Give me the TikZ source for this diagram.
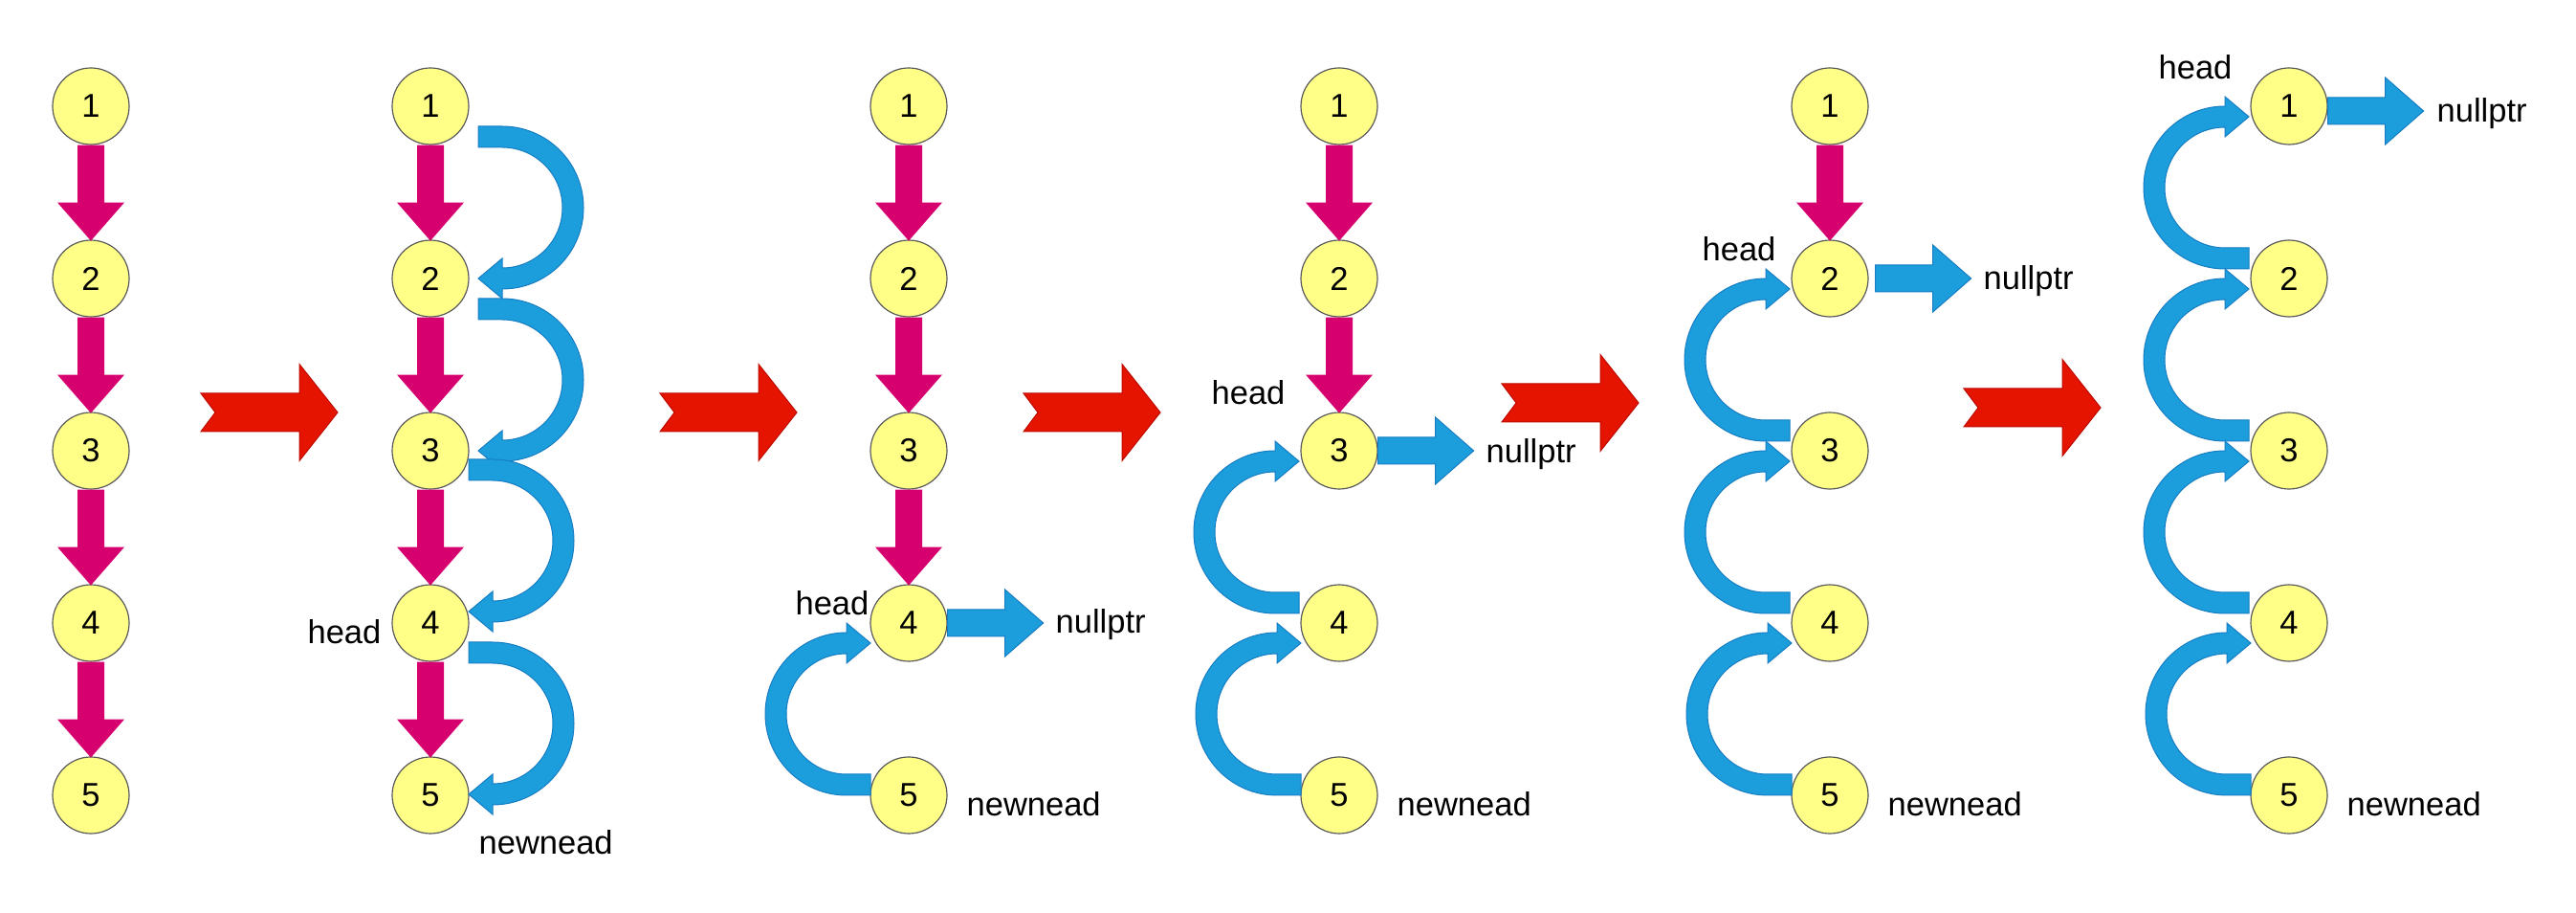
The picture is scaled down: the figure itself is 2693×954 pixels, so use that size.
\documentclass[tikz,border=0pt]{standalone}
\usepackage{fontspec}
\setmainfont{Liberation Sans}
\usetikzlibrary{calc}
\definecolor{nodefill}{RGB}{255,255,136}
\definecolor{nodeline}{RGB}{90,90,90}
\definecolor{magarrow}{RGB}{214,0,110}
\definecolor{bluearrow}{RGB}{28,158,221}
\definecolor{blueline}{RGB}{22,125,195}
\definecolor{redarrow}{RGB}{228,20,0}
\definecolor{redline}{RGB}{190,10,0}
\tikzset{
  listnode/.style={circle, draw=nodeline, line width=0.36pt, fill=nodefill, minimum size=24pt, inner sep=0pt, font=\fontsize{10.35pt}{12pt}\selectfont},
  lbl/.style={inner sep=0pt, font=\fontsize{10.35pt}{12pt}\selectfont},
  magshape/.style={fill=magarrow},
  blueshape/.style={fill=bluearrow, draw=blueline, line width=0.3pt},
  redshape/.style={fill=redarrow, draw=redline, line width=0.3pt},
}
\newcommand{\magdown}[1]{\fill[magshape,shift={(#1)}] (-14,0) -- (-14,-60) -- (-35,-60) -- (0,-100) -- (35,-60) -- (14,-60) -- (14,0) -- cycle;}
\newcommand{\nullarrow}[1]{\filldraw[blueshape,shift={(#1)}] (0,14) -- (60,14) -- (60,35) -- (100,0) -- (60,-35) -- (60,-14) -- (0,-14) -- cycle;}
\newcommand{\stepred}[1]{\filldraw[redshape,shift={(#1)}] (0,20) -- (103,20) -- (103,50.5) -- (143,0) -- (103,-50.5) -- (103,-20) -- (0,-20) -- (15,0) -- cycle;}
\newcommand{\rightloop}[1]{\filldraw[blueshape,shift={(#1)}] (0,11) -- (25,11) arc[start angle=90,end angle=-90,radius=85] -- (25,-169) -- (0,-148) -- (25,-127) -- (25,-137) arc[start angle=-90,end angle=90,radius=63] -- (0,-11) -- cycle;}
\newcommand{\leftloop}[1]{\filldraw[blueshape,shift={(#1)}] (0,-11) -- (-25,-11) arc[start angle=270,end angle=90,radius=85] -- (-25,169) -- (0,148) -- (-25,127) -- (-25,137) arc[start angle=90,end angle=270,radius=63] -- (0,11) -- cycle;}
\begin{document}
\begin{tikzpicture}[x=0.3pt,y=0.3pt]
\useasboundingbox (0,0) rectangle (2693,-954);
% nodes
\foreach \c/\x in {a/95,b/450,c/950,d/1400,e/1913,f/2393}{
  \foreach \i in {1,...,5}{
    \node[listnode] (\c\i) at (\x,{-111-180*(\i-1)}) {\i};
  }
}
% red step arrows
\coordinate (r1) at (210,-431);
\coordinate (r2) at (690,-431);
\coordinate (r3) at (1070,-431);
\coordinate (r4) at (1570,-421);
\coordinate (r5) at (2053,-426);
\foreach \r in {r1,r2,r3,r4,r5}{\stepred{\r}}
% magenta next arrows
\foreach \i in {1,2,3,4}{\magdown{a\i.south}}
\foreach \i in {1,2,3,4}{\magdown{b\i.south}}
\foreach \i in {1,2,3}{\magdown{c\i.south}}
\foreach \i in {1,2}{\magdown{d\i.south}}
\magdown{e1.south}
% column 2 loops
\rightloop{$(b1.center)+(50,-32)$}
\rightloop{$(b2.center)+(50,-32)$}
\rightloop{$(b3.center)+(40,-20)$}
\rightloop{$(b4.center)+(40,-31)$}
% reversed links
\leftloop{$(c5.center)+(-40,11)$}
\leftloop{$(d5.center)+(-40,11)$}
\leftloop{$(d4.center)+(-42,21)$}
\leftloop{$(e5.center)+(-40,11)$}
\leftloop{$(e4.center)+(-42,21)$}
\leftloop{$(e3.center)+(-42,21)$}
\leftloop{$(f5.center)+(-40,11)$}
\leftloop{$(f4.center)+(-42,21)$}
\leftloop{$(f3.center)+(-42,21)$}
\leftloop{$(f2.center)+(-42,21)$}
% nullptr arrows
\nullarrow{c4.east}
\nullarrow{d3.east}
\nullarrow{$(e2.east)+(7,0)$}
\nullarrow{$(f1.east)+(0,-5)$}
% labels
\node[lbl, anchor=base] (h2) at (360,-673) {head};
\node[lbl, anchor=base] (h3) at (870,-643) {head};
\node[lbl, anchor=base] (h4) at (1305,-423) {head};
\node[lbl, anchor=base] (h5) at (1818,-273) {head};
\node[lbl, anchor=base] (h6) at (2295,-83) {head};
\node[lbl, anchor=base west] (n3) at (1103,-662) {nullptr};
\node[lbl, anchor=base west] (n4) at (1553,-484) {nullptr};
\node[lbl, anchor=base west] (n5) at (2073,-303) {nullptr};
\node[lbl, anchor=base west] (n6) at (2547,-128) {nullptr};
\node[lbl, anchor=base west] (w2) at (500,-893) {newnead};
\node[lbl, anchor=base west] (w3) at (1010,-853) {newnead};
\node[lbl, anchor=base west] (w4) at (1460,-853) {newnead};
\node[lbl, anchor=base west] (w5) at (1973,-853) {newnead};
\node[lbl, anchor=base west] (w6) at (2453,-853) {newnead};
\end{tikzpicture}
\end{document}
